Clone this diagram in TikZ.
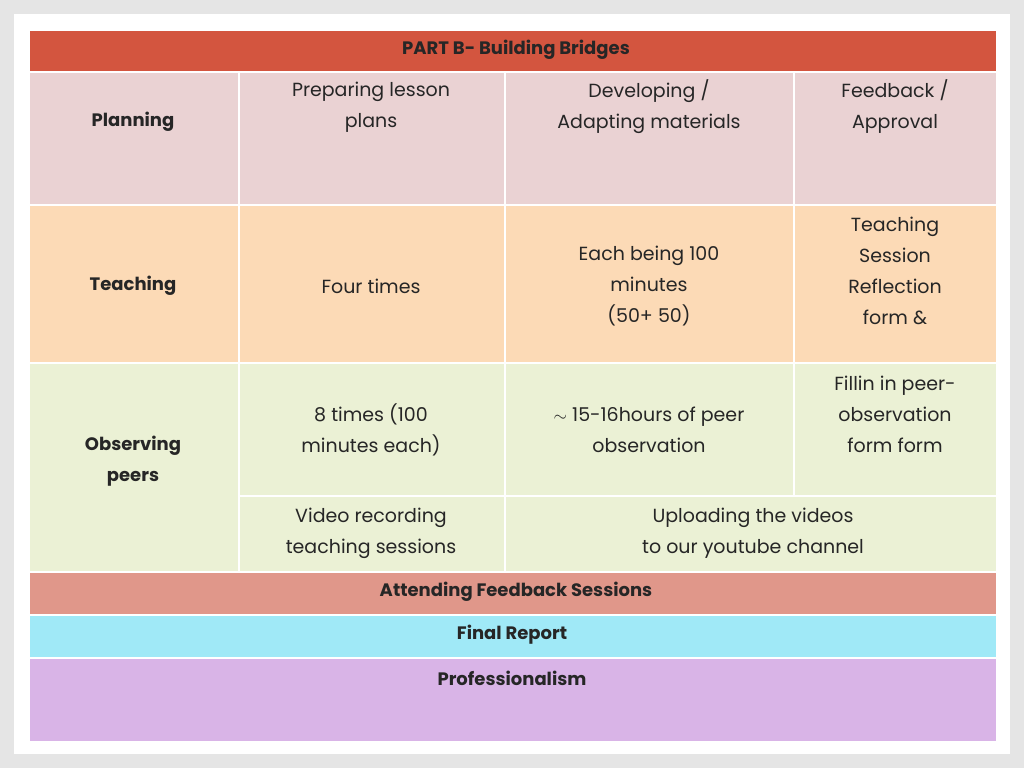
\documentclass[tikz,border=0pt]{standalone}
\usepackage{fontspec}
\setmainfont{Poppins}
\definecolor{titlered}{HTML}{D3553F}
\definecolor{planpink}{HTML}{EAD2D3}
\definecolor{teachpeach}{HTML}{FCDAB6}
\definecolor{obsgreen}{HTML}{EBF1D5}
\definecolor{feedred}{HTML}{E0978A}
\definecolor{reportcyan}{HTML}{A0E9F7}
\definecolor{profviolet}{HTML}{D9B4E7}
\tikzset{
cell/.style={draw=white,line width=1.5pt,inner sep=0pt,anchor=north west},
txt/.style={align=center,font=\fontsize{19}{31}\selectfont,text=black!85},
head/.style={txt,font=\fontsize{18}{31}\selectfont\bfseries},
}
\newcommand{\cellbox}[6]{\node[cell,fill=#6,minimum width=#4-#2,minimum height=#5-#3] (#1) at (#2,#3) {};}
\begin{document}
\begin{tikzpicture}[x=1pt,y=-1pt]
\useasboundingbox (0,0) rectangle (1024,768);
% background slide
\fill[black!10] (0,0) rectangle (1024,768);
\fill[white] (14,14) rectangle (1010,754);
% the cells
\cellbox{title}{28}{30}{996}{71}{titlered}
\cellbox{plan}{28}{71}{238}{204}{planpink}
\cellbox{plana}{238}{71}{504}{204}{planpink}
\cellbox{planb}{504}{71}{793}{204}{planpink}
\cellbox{planc}{793}{71}{996}{204}{planpink}
\cellbox{teach}{28}{204}{238}{362}{teachpeach}
\cellbox{teacha}{238}{204}{504}{362}{teachpeach}
\cellbox{teachb}{504}{204}{793}{362}{teachpeach}
\cellbox{teachc}{793}{204}{996}{362}{teachpeach}
\cellbox{obs}{28}{362}{238}{571}{obsgreen}
\cellbox{obsa}{238}{362}{504}{495}{obsgreen}
\cellbox{obsb}{504}{362}{793}{495}{obsgreen}
\cellbox{obsc}{793}{362}{996}{495}{obsgreen}
\cellbox{video}{238}{495}{504}{571}{obsgreen}
\cellbox{upload}{504}{495}{996}{571}{obsgreen}
\cellbox{feed}{28}{571}{996}{614}{feedred}
\cellbox{report}{28}{614}{996}{657}{reportcyan}
\cellbox{prof}{28}{657}{996}{741}{profviolet}
% the texts
\node[head] at (516,50) {PART B- Building Bridges};
\node[head] at (133,122) {Planning};
\node[txt] at (371,107) {Preparing lesson\\plans};
\node[txt] at (649,107) {Developing /\\Adapting materials};
\node[txt] at (895,107) {Feedback /\\Approval};
\node[head] at (133,286) {Teaching};
\node[txt] at (371,286) {Four times};
\node[txt] at (649,286) {Each being 100\\minutes\\(50+ 50)};
\node[txt] at (895,271) {Teaching\\Session\\Reflection\\form \&};
\node[head] at (133,461) {Observing\\peers};
\node[txt] at (371,430) {8 times (100\\minutes each)};
\node[txt] at (649,430) {$\sim$ 15-16hours of peer\\observation};
\node[txt] at (895,414) {Fillin in peer-\\observation\\form form};
\node[txt] at (371,533) {Video recording\\teaching sessions};
\node[txt] at (753,533) {Uploading the videos\\to our youtube channel};
\node[head] at (516,592) {Attending Feedback Sessions};
\node[head] at (512,635) {Final Report};
\node[head] at (512,678) {Professionalism};
\end{tikzpicture}
\end{document}
